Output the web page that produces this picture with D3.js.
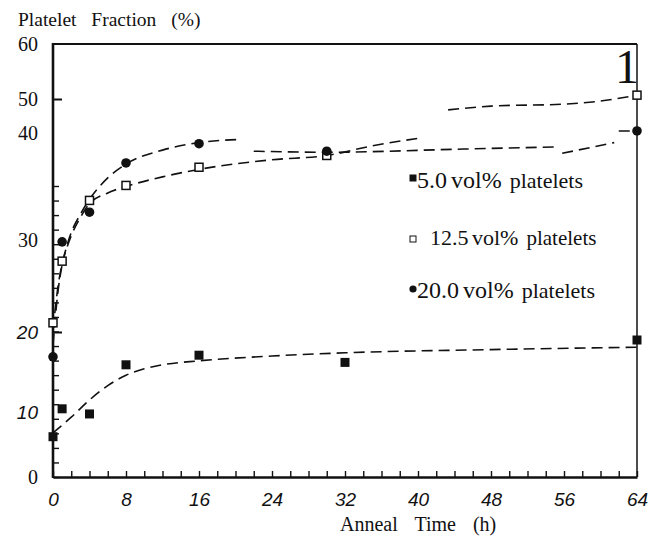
<!DOCTYPE html>
<html>
<head>
<meta charset="utf-8">
<script src="https://cdn.jsdelivr.net/npm/d3@7"></script>
<style>
body { margin: 0; background: #fff; }
svg { display: block; }
.serif { font-family: "Liberation Serif", "DejaVu Serif", serif; fill: #111; }
.sansit { font-family: "Liberation Sans", Arial, sans-serif; font-style: italic; fill: #111; }
.fit { fill: none; stroke: #111; stroke-width: 1.6; stroke-dasharray: 11,6; }
</style>
</head>
<body>
<svg width="654" height="538"></svg>
<script>
var t5 = [0, 1, 4, 8, 16, 32, 64],
    v5 = [6.2, 10.4, 9.7, 15.9, 17.1, 16.2, 19.0];
var t12 = [0, 1, 4, 8, 16, 30, 64],
    v12 = [21.0, 27.7, 33.7, 35.1, 36.8, 37.9, 50.7];
var t20 = [0, 1, 4, 8, 16, 30, 64],
    v20 = [16.9, 29.8, 32.6, 37.2, 39.0, 38.3, 40.6];

// dashed fit curves (null = gap in the printed line)
var fit5T = [0, 2, 4, 6, 8, 10, 12, 16, 24, 32, 48, 64],
    fit5V = [6.8, 9.2, 11.5, 13.3, 14.6, 15.4, 15.9, 16.4, 17.0, 17.4, 17.8, 18.1];
var fit12T = [0, 0.5, 1, 1.5, 2, 3, 4, 6, 8, 12, 16, 24, 30, 35, 40, 41, 43.3, 48, 56, 60, 64],
    fit12V = [20.2, 24.6, 27.4, 29.1, 30.4, 32.1, 33.4, 34.4, 35.0, 35.9, 36.6, 37.5, 37.9, 38.8, 39.5, null, 46.8, 47.9, 48.5, 49.4, 50.7];
var fit20T = [0, 0.5, 1, 1.5, 2, 3, 4, 6, 8, 12, 16, 20.5, 21, 22, 30, 45, 55.5, 55.7, 55.8, 61.5, 61.8, 62, 64],
    fit20V = [18.4, 24.0, 27.3, 29.3, 30.7, 32.4, 33.8, 35.8, 37.1, 38.4, 39.1, 39.4, null, 38.3, 38.2, 38.5, 38.7, null, 38.1, 39.1, null, 40.6, 40.6];

var xTicks = [0, 8, 16, 24, 32, 40, 48, 56, 64];
var yLabels = [0, 10, 20, 30, 40, 50, 60];
var yMajor = [20, 50];
var legendNums = ["5.0 vol%", "12.5 vol%", "20.0 vol%"];
var legendWord = "platelets";

var svg = d3.select("svg");

var x = d3.scaleLinear().domain([0, 64]).range([53, 637]);
// the printed value axis is not evenly spaced, so the scale follows the printed labels
var y = d3.scaleLinear().domain(yLabels).range([477, 412, 332, 240, 133, 99, 44]);
// small ticks on the left edge are evenly spaced
var yTick = d3.scaleLinear().domain([0, 40]).range([477, 186]);

function zip(ts, vs) { return ts.map(function(t, i) { return {t: t, v: vs[i]}; }); }

// frame
svg.append("line").attr("x1", x(0)).attr("x2", x(64)).attr("y1", y(60)).attr("y2", y(60))
  .attr("stroke", "#111").attr("stroke-width", 2);
svg.append("line").attr("x1", x(64)).attr("x2", x(64)).attr("y1", y(60)).attr("y2", y(0))
  .attr("stroke", "#111").attr("stroke-width", 1.5);

// x axis: inward ticks every 2 h, labels every 8 h
var gx = svg.append("g").attr("transform", "translate(0," + y(0) + ")")
  .call(d3.axisTop(x).tickValues(d3.range(0, 65, 2)).tickSize(6).tickFormat("").tickSizeOuter(0));
gx.select(".domain").attr("stroke", "#111").attr("stroke-width", 2.6);
gx.selectAll(".tick line").attr("stroke", "#111").attr("stroke-width", 1.4);

var gxl = svg.append("g").attr("transform", "translate(0," + y(0) + ")")
  .call(d3.axisBottom(x).tickValues(xTicks).tickSize(0).tickPadding(15.5));
gxl.select(".domain").remove();
gxl.selectAll("text").attr("class", "sansit").attr("font-size", 19);

// y axis
var gy = svg.append("g").attr("transform", "translate(" + x(0) + ",0)")
  .call(d3.axisRight(yTick).tickValues(d3.range(0, 41, 2)).tickSize(6).tickFormat("").tickSizeOuter(0));
gy.select(".domain").remove();
gy.selectAll(".tick line").attr("stroke", "#111").attr("stroke-width", 1.4);

var gym = svg.append("g").attr("transform", "translate(" + x(0) + ",0)")
  .call(d3.axisRight(y).tickValues(yMajor).tickSize(9).tickFormat("").tickSizeOuter(0));
gym.select(".domain").remove();
gym.selectAll(".tick line").attr("stroke", "#111").attr("stroke-width", 2);

svg.append("line").attr("x1", x(0)).attr("x2", x(0)).attr("y1", y(60) - 1).attr("y2", y(0) + 1)
  .attr("stroke", "#111").attr("stroke-width", 2.6);

var gyl = svg.append("g").attr("transform", "translate(" + x(0) + ",0)")
  .call(d3.axisLeft(y).tickValues(yLabels).tickSize(0).tickPadding(15));
gyl.select(".domain").remove();
gyl.selectAll("text")
  .attr("class", function(d) { return (d === 10 || d === 20) ? "sansit" : "serif"; })
  .attr("font-size", function(d) { return (d === 10 || d === 20) ? 19 : 20; });

// titles
svg.append("text").attr("class", "serif").attr("x", 18).attr("y", 26)
  .attr("font-size", 19.5).attr("word-spacing", 10).text("Platelet Fraction (%)");
svg.append("text").attr("class", "serif").attr("x", 340).attr("y", 531)
  .attr("font-size", 20).attr("word-spacing", 12).text("Anneal Time (h)");
svg.append("text").attr("class", "serif").attr("x", 627).attr("y", 83)
  .attr("text-anchor", "middle").attr("font-size", 48).text("1");

// fit curves
var line = d3.line()
  .defined(function(d) { return d.v !== null; })
  .x(function(d) { return x(d.t); })
  .y(function(d) { return y(d.v); })
  .curve(d3.curveMonotoneX);

[[fit5T, fit5V], [fit12T, fit12V], [fit20T, fit20V]].forEach(function(f) {
  svg.append("path").datum(zip(f[0], f[1])).attr("class", "fit").attr("d", line);
});

// points
svg.selectAll(".p5").data(zip(t5, v5)).enter().append("rect").attr("class", "p5")
  .attr("x", function(d) { return x(d.t) - 4.5; }).attr("y", function(d) { return y(d.v) - 4.5; })
  .attr("width", 9).attr("height", 9).attr("fill", "#111");
svg.selectAll(".p12").data(zip(t12, v12)).enter().append("rect").attr("class", "p12")
  .attr("x", function(d) { return x(d.t) - 4; }).attr("y", function(d) { return y(d.v) - 4; })
  .attr("width", 8).attr("height", 8).attr("fill", "#fff").attr("stroke", "#111").attr("stroke-width", 1.5);
svg.selectAll(".p20").data(zip(t20, v20)).enter().append("circle").attr("class", "p20")
  .attr("cx", function(d) { return x(d.t); }).attr("cy", function(d) { return y(d.v); })
  .attr("r", 4.8).attr("fill", "#111");

// legend
var leg = svg.selectAll(".leg").data(legendNums).enter().append("g").attr("class", "leg")
  .attr("transform", function(d, i) { return "translate(413," + [178, 239, 289][i] + ")"; });
leg.each(function(d, i) {
  var g = d3.select(this);
  if (i === 0) g.append("rect").attr("x", -3.5).attr("y", -3.5).attr("width", 7).attr("height", 7).attr("fill", "#111");
  if (i === 1) g.append("rect").attr("x", -3).attr("y", -3).attr("width", 6).attr("height", 6).attr("fill", "#fff").attr("stroke", "#111").attr("stroke-width", 1);
  if (i === 2) g.append("circle").attr("r", 3.6).attr("fill", "#111");
});
var lt = leg.append("text").attr("class", "serif")
  .attr("x", function(d, i) { return i === 1 ? 17 : 4; })
  .attr("y", function(d, i) { return [10, 6, 9][i]; });
lt.append("tspan")
  .attr("font-size", function(d, i) { return i === 1 ? 22 : 24; })
  .attr("word-spacing", -2)
  .text(function(d) { return d; });
lt.append("tspan")
  .attr("dx", 8)
  .attr("font-size", function(d, i) { return i === 1 ? 21 : 22; })
  .text(legendWord);
</script>
</body>
</html>
